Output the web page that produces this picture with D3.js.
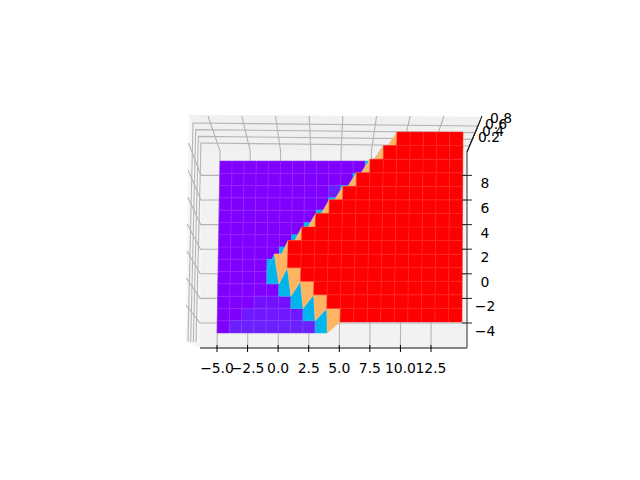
<!DOCTYPE html>
<html><head><meta charset="utf-8">
<script src="https://cdnjs.cloudflare.com/ajax/libs/d3/7.8.5/d3.min.js"></script>
<style>html,body{margin:0;padding:0;background:#fff}svg{display:block}text{font-family:"DejaVu Sans",sans-serif;font-size:13.9px;fill:#000}</style>
</head><body><svg id="c" width="640" height="480"></svg>
<script>
// ---- data ----
const xValues = [-5,-4,-3,-2,-1,0,1,2,3,4,5,6,7,8,9,10,11,12,13,14];
const yValues = [-5,-4,-3,-2,-1,0,1,2,3,4,5,6,7,8,9];
// first x on each y row where the surface is at its high level
const firstHighX = [5,4,3,2,1,0,1,2,3,4,5,6,7,8,9];
const lowZ = 0, highZ = 1;
// faint lift of individual low cells: [x, y, mean z]
const liftedCells = [
 [-4,-5,.04],[-3,-5,.04],[-2,-5,.04],[-1,-5,.04],[0,-5,.04],[1,-5,.04],[2,-5,.04],
 [-3,-4,.03],[-2,-4,.03],[-1,-4,.03],[0,-4,.03],[1,-4,.03],[2,-4,.03],
 [-2,-3,.02],[-1,-3,.02],[0,-3,.02],[1,-3,.02],
 [1,-2,.012],[0,-2,.012],[4,6,.04]];
const xTicks = [-5,-2.5,0,2.5,5,7.5,10,12.5];
const xTickLabels = ["\u22125.0","\u22122.5","0.0","2.5","5.0","7.5","10.0","12.5"];
const yTicks = [-4,-2,0,2,4,6,8];
const yTickLabels = ["\u22124","\u22122","0","2","4","6","8"];
const zTicks = [0.2,0.4,0.6,0.8];
const zTickLabels = ["0.2","0.4","0.6","0.8"];

// ---- scales ----
const svg = d3.select("#c");
const xFront = d3.scaleLinear([-5,12.5],[217,431]);
const xBack  = d3.scaleLinear([-5,12.5],[220,432]);
const xTop   = d3.scaleLinear([-5,12.5],[208,444]);
const yFloor = d3.scaleLinear([-4,8],[323,175.4]);
const yWall  = d3.scaleLinear([-4,8],[305,143]);
const xWall  = d3.scaleLinear([-4,8],[186,188.5]);
const xInner = d3.scaleLinear([-4,8],[200,201]);
const zLeftY = d3.scaleLinear([0.2,0.8],[143,123]);
const zLeftX = d3.scaleLinear([0.2,0.8],[201,193]);
const zLowX  = d3.scaleLinear([0.2,0.8],[196,188]);
const zRightY= d3.scaleLinear([0.2,0.8],[146,126]);
const zRightX= d3.scaleLinear([0.2,0.8],[469.5,478]);
const zLabelX= d3.scaleLinear([0.2,0.4,0.6,0.8],[489,493,496,501]);
const zLabelY= d3.scaleLinear([0.2,0.8],[137,118]);

// projection of the two surface levels
const planes = {
 low: {left:d3.scaleLinear([-5,9],[217,220]), right:d3.scaleLinear([-5,9],[449.8,450]), y:d3.scaleLinear([-5,9],[333,161])},
 high:{left:d3.scaleLinear([-5,9],[204.5,212]), right:d3.scaleLinear([-5,9],[462,463]), y:d3.scaleLinear([-5,9],[322,132])}
};
function project(x,y,level){
  const p = planes[level];
  const sx = d3.scaleLinear([-5,14],[p.left(y),p.right(y)]);
  return [sx(x),p.y(y)];
}
function rainbow(t){
  const c = v=>Math.round(255*Math.max(0,Math.min(1,v)));
  return `rgb(${c(Math.abs(2*t-0.5))},${c(Math.sin(Math.PI*t))},${c(Math.cos(Math.PI*t/2))})`;
}
const colour = d3.scaleSequential([lowZ,highZ],rainbow);

// ---- panes ----
const line = d3.line();
const panes = [
 {f:"#f2f2f2",p:[[200,348],[467,348],[467,152],[201,150]]},
 {f:"#f0f0f0",p:[[189,115],[480,117],[467,152],[201,150]]},
 {f:"#f6f6f6",p:[[189,115],[201,150],[200,348],[186,340]]}
];
svg.selectAll("path.pane").data(panes).join("path").attr("class","pane")
  .attr("d",d=>line(d.p)+"Z").attr("fill",d=>d.f).attr("stroke",d=>d.f).attr("stroke-width",.5);

// ---- grid ----
const grid = svg.append("g").attr("fill","none").attr("stroke","#b4b4b4").attr("stroke-width",1.1);
grid.selectAll("path.gx").data(xTicks).join("path").attr("class","gx")
  .attr("d",t=>line([[xFront(t),348],[xBack(t),151],[xTop(t),116]]));
grid.selectAll("path.gy").data(yTicks).join("path").attr("class","gy")
  .attr("d",t=>line([[467,yFloor(t)],[xInner(t),yFloor(t)],[xWall(t),yWall(t)]]));
grid.selectAll("path.gz").data(zTicks).join("path").attr("class","gz")
  .attr("d",t=>line([[zRightX(t),zRightY(t)],[zLeftX(t),zLeftY(t)],[zLowX(t),342]]));

// ---- surface ----
const isHigh=(x,y)=>x>=firstHighX[yValues.indexOf(y)];
const cells=[];
yValues.slice(0,-1).forEach((y,j)=>{
  xValues.slice(0,-1).forEach((x,i)=>{
    const corners=[[x,y],[xValues[i+1],y],[xValues[i+1],yValues[j+1]],[x,yValues[j+1]]];
    const zs=corners.map(c=>isHigh(c[0],c[1])?highZ:lowZ);
    let m=d3.mean(zs);
    const lift=liftedCells.find(c=>c[0]===x&&c[1]===y);
    if(lift&&m===lowZ) m=lift[2];
    cells.push({m,pts:corners.map((c,k)=>project(c[0],c[1],zs[k]===highZ?"high":"low"))});
  });
});
cells.sort((a,b)=>d3.ascending(a.m,b.m));
svg.append("g").selectAll("path").data(cells).join("path")
  .attr("d",d=>line(d.pts)+"Z")
  .attr("fill",d=>colour(d.m))
  .attr("stroke",d=>d3.interpolateRgb(colour(d.m),"#fff")(.15))
  .attr("stroke-width",.55);

// ---- axes ----
const axes = svg.append("g").attr("fill","none");
axes.append("path").attr("d",line([[200,348],[467,348]])).attr("stroke","#111").attr("stroke-width",1.1);
axes.append("path").attr("d",line([[467,348],[467,152]])).attr("stroke","#666").attr("stroke-width",1.4);
axes.append("path").attr("d",line([[467,152],[482,116]])).attr("stroke","#222").attr("stroke-width",1.1);
axes.selectAll("path.tx").data(xTicks).join("path").attr("class","tx").attr("stroke","#000")
  .attr("d",t=>line([[xFront(t),345],[xFront(t),352]]));
axes.selectAll("path.ty").data(yTicks).join("path").attr("class","ty").attr("stroke","#222")
  .attr("d",t=>line([[462,yFloor(t)],[472,yFloor(t)]]));
axes.selectAll("path.tz").data(zTicks).join("path").attr("class","tz").attr("stroke","#222")
  .attr("d",t=>line([[zRightX(t)-2.5,zRightY(t)+6],[zRightX(t)+2.5,zRightY(t)-6]]));

svg.append("g").selectAll("text").data(xTicks).join("text")
  .attr("x",t=>xFront(t)).attr("y",373).attr("text-anchor","middle")
  .text((t,i)=>xTickLabels[i]);
svg.append("g").selectAll("text").data(yTicks).join("text")
  .attr("x",485).attr("y",t=>yFloor(t)+13).attr("text-anchor","middle")
  .text((t,i)=>yTickLabels[i]);
svg.append("g").selectAll("text").data(zTicks).join("text")
  .attr("x",t=>zLabelX(t)).attr("y",t=>zLabelY(t)+5).attr("text-anchor","middle")
  .text((t,i)=>zTickLabels[i]);
</script></body></html>
